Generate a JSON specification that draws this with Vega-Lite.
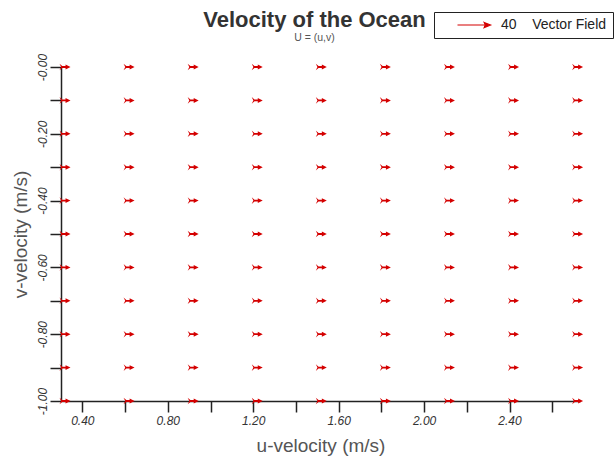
{
  "$schema": "https://vega.github.io/schema/vega-lite/v6.json",
  "width": 519,
  "height": 334,
  "autosize": {"type": "none"},
  "padding": {"left": 61, "top": 67, "right": 34, "bottom": 60},
  "background": "white",
  "title": {
    "text": "Velocity of the Ocean",
    "subtitle": "U = (u,v)",
    "font": "Liberation Sans",
    "fontSize": 22,
    "fontWeight": "bold",
    "color": "#333333",
    "subtitleFont": "Liberation Sans",
    "subtitleFontSize": 10.5,
    "subtitleColor": "#555555",
    "subtitlePadding": 1,
    "anchor": "middle",
    "offset": -33,
    "dx": -6
  },
  "config": {
    "view": {"stroke": null},
    "axis": {"grid": false}
  },
  "data": {
    "values": [
      {"u": 0.3, "v": 0}, {"u": 0.3, "v": -0.1}, {"u": 0.3, "v": -0.2}, {"u": 0.3, "v": -0.3}, {"u": 0.3, "v": -0.4}, {"u": 0.3, "v": -0.5}, {"u": 0.3, "v": -0.6}, {"u": 0.3, "v": -0.7}, {"u": 0.3, "v": -0.8}, {"u": 0.3, "v": -0.9}, {"u": 0.3, "v": -1.0},
      {"u": 0.6, "v": 0}, {"u": 0.6, "v": -0.1}, {"u": 0.6, "v": -0.2}, {"u": 0.6, "v": -0.3}, {"u": 0.6, "v": -0.4}, {"u": 0.6, "v": -0.5}, {"u": 0.6, "v": -0.6}, {"u": 0.6, "v": -0.7}, {"u": 0.6, "v": -0.8}, {"u": 0.6, "v": -0.9}, {"u": 0.6, "v": -1.0},
      {"u": 0.9, "v": 0}, {"u": 0.9, "v": -0.1}, {"u": 0.9, "v": -0.2}, {"u": 0.9, "v": -0.3}, {"u": 0.9, "v": -0.4}, {"u": 0.9, "v": -0.5}, {"u": 0.9, "v": -0.6}, {"u": 0.9, "v": -0.7}, {"u": 0.9, "v": -0.8}, {"u": 0.9, "v": -0.9}, {"u": 0.9, "v": -1.0},
      {"u": 1.2, "v": 0}, {"u": 1.2, "v": -0.1}, {"u": 1.2, "v": -0.2}, {"u": 1.2, "v": -0.3}, {"u": 1.2, "v": -0.4}, {"u": 1.2, "v": -0.5}, {"u": 1.2, "v": -0.6}, {"u": 1.2, "v": -0.7}, {"u": 1.2, "v": -0.8}, {"u": 1.2, "v": -0.9}, {"u": 1.2, "v": -1.0},
      {"u": 1.5, "v": 0}, {"u": 1.5, "v": -0.1}, {"u": 1.5, "v": -0.2}, {"u": 1.5, "v": -0.3}, {"u": 1.5, "v": -0.4}, {"u": 1.5, "v": -0.5}, {"u": 1.5, "v": -0.6}, {"u": 1.5, "v": -0.7}, {"u": 1.5, "v": -0.8}, {"u": 1.5, "v": -0.9}, {"u": 1.5, "v": -1.0},
      {"u": 1.8, "v": 0}, {"u": 1.8, "v": -0.1}, {"u": 1.8, "v": -0.2}, {"u": 1.8, "v": -0.3}, {"u": 1.8, "v": -0.4}, {"u": 1.8, "v": -0.5}, {"u": 1.8, "v": -0.6}, {"u": 1.8, "v": -0.7}, {"u": 1.8, "v": -0.8}, {"u": 1.8, "v": -0.9}, {"u": 1.8, "v": -1.0},
      {"u": 2.1, "v": 0}, {"u": 2.1, "v": -0.1}, {"u": 2.1, "v": -0.2}, {"u": 2.1, "v": -0.3}, {"u": 2.1, "v": -0.4}, {"u": 2.1, "v": -0.5}, {"u": 2.1, "v": -0.6}, {"u": 2.1, "v": -0.7}, {"u": 2.1, "v": -0.8}, {"u": 2.1, "v": -0.9}, {"u": 2.1, "v": -1.0},
      {"u": 2.4, "v": 0}, {"u": 2.4, "v": -0.1}, {"u": 2.4, "v": -0.2}, {"u": 2.4, "v": -0.3}, {"u": 2.4, "v": -0.4}, {"u": 2.4, "v": -0.5}, {"u": 2.4, "v": -0.6}, {"u": 2.4, "v": -0.7}, {"u": 2.4, "v": -0.8}, {"u": 2.4, "v": -0.9}, {"u": 2.4, "v": -1.0},
      {"u": 2.7, "v": 0}, {"u": 2.7, "v": -0.1}, {"u": 2.7, "v": -0.2}, {"u": 2.7, "v": -0.3}, {"u": 2.7, "v": -0.4}, {"u": 2.7, "v": -0.5}, {"u": 2.7, "v": -0.6}, {"u": 2.7, "v": -0.7}, {"u": 2.7, "v": -0.8}, {"u": 2.7, "v": -0.9}, {"u": 2.7, "v": -1.0}
    ]
  },
  "mark": {
    "type": "point",
    "filled": true,
    "opacity": 1,
    "shape": "M-1,-0.6L-0.5,-0.16L0.1,-0.16L0.1,-0.45L1,0L0.1,0.45L0.1,0.16L-0.5,0.16L-1,0.6L-0.7,0Z",
    "size": 121,
    "xOffset": 4
  },
  "encoding": {
    "x": {
      "field": "u",
      "type": "quantitative",
      "scale": {"domain": [0.3, 2.73], "nice": false, "zero": false},
      "axis": {
        "values": [0.4, 0.6, 0.8, 1.0, 1.2, 1.4, 1.6, 1.8, 2.0, 2.2, 2.4, 2.6],
        "labelExpr": "round(datum.value * 10) % 4 == 0 ? format(datum.value, '.2f') : ''",
        "labelFlush": false,
        "labelOverlap": false,
        "tickSize": 11,
        "tickWidth": 1.5,
        "tickColor": "#222222",
        "domainColor": "#222222",
        "domainWidth": 1.5,
        "labelFont": "Liberation Sans",
        "labelFontStyle": "italic",
        "labelFontSize": 12,
        "labelColor": "#333333",
        "labelPadding": 3,
        "title": "u-velocity (m/s)",
        "titleFont": "Liberation Sans",
        "titleFontSize": 19,
        "titleFontWeight": "normal",
        "titleColor": "#555555",
        "titlePadding": 10
      }
    },
    "y": {
      "field": "v",
      "type": "quantitative",
      "scale": {"domain": [-1, 0], "nice": false, "zero": false},
      "axis": {
        "values": [0, -0.1, -0.2, -0.3, -0.4, -0.5, -0.6, -0.7, -0.8, -0.9, -1.0],
        "labelExpr": "round(datum.value * 10) % 2 == 0 ? '-' + format(abs(datum.value), '.2f') : ''",
        "labelFlush": false,
        "labelOverlap": false,
        "labelAngle": 270,
        "labelAlign": "center",
        "labelBaseline": "bottom",
        "tickSize": 11,
        "tickWidth": 1.5,
        "tickColor": "#222222",
        "domainColor": "#222222",
        "domainWidth": 1.5,
        "labelFont": "Liberation Sans",
        "labelFontStyle": "italic",
        "labelFontSize": 12,
        "labelColor": "#333333",
        "labelPadding": 1,
        "title": "v-velocity (m/s)",
        "titleFont": "Liberation Sans",
        "titleFontSize": 19,
        "titleFontWeight": "normal",
        "titleColor": "#555555",
        "titlePadding": 6
      }
    },
    "color": {
      "datum": "Vector Field",
      "scale": {"range": ["#d40000"]},
      "legend": {
        "title": null,
        "orient": "none",
        "legendX": 373,
        "legendY": -55,
        "strokeColor": "#222222",
        "padding": 6,
        "symbolType": "M-2.75,0L2.1,0M1.7,-0.42L2.75,0L1.7,0.42L1.9,0Z",
        "symbolSize": 144,
        "symbolOffset": 27,
        "symbolStrokeColor": "#d40000",
        "symbolStrokeWidth": 1.2,
        "symbolFillColor": "#d40000",
        "labelOffset": 20,
        "labelLimit": 400,
        "labelFont": "Liberation Sans",
        "labelFontSize": 14,
        "labelColor": "#222222",
        "labelExpr": "'40\u00a0\u00a0\u00a0 ' + datum.label",
        "encode": {
          "symbols": {
            "update": {
              "fill": {"value": "#d40000"},
              "stroke": {"value": "#d40000"},
              "strokeWidth": {"value": 1.2},
              "opacity": {"value": 1}
            }
          }
        }
      }
    }
  }
}
